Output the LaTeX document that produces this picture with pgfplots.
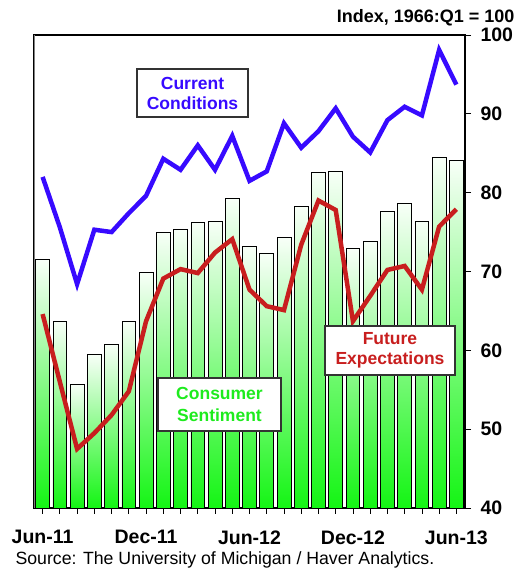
\documentclass[border=0pt]{standalone}
\usepackage{fontspec}
\setmainfont{Liberation Sans}
\usepackage{pgfplots}
\usepackage{pgfplotstable}
\pgfplotsset{compat=1.18}
\definecolor{ccblue}{RGB}{55,10,255}
\definecolor{ferred}{RGB}{200,30,30}
\definecolor{csgreen}{RGB}{30,235,30}
\definecolor{barTop}{RGB}{248,255,248}
\definecolor{barBot}{RGB}{20,245,20}

\pgfplotstableread{
x cs cc fe
0 71.5 82.0 64.6
1 63.7 75.6 56.0
2 55.7 68.4 47.5
3 59.5 75.3 49.5
4 60.8 75.0 51.8
5 63.7 77.4 54.8
6 69.9 79.6 63.7
7 75.0 84.3 69.1
8 75.3 82.9 70.3
9 76.2 86.0 69.8
10 76.4 82.9 72.4
11 79.3 87.2 74.1
12 73.2 81.5 67.7
13 72.3 82.7 65.6
14 74.3 88.8 65.1
15 78.3 85.7 73.4
16 82.6 87.8 79.0
17 82.7 90.7 77.8
18 72.9 87.1 63.7
19 73.8 85.1 66.9
20 77.6 89.2 70.2
21 78.6 90.9 70.7
22 76.4 89.8 67.7
23 84.5 98.1 75.7
24 84.1 93.7 77.9
}\datatable

\begin{document}
\begin{tikzpicture}
\begin{axis}[
  at={(34pt,61pt)}, anchor=south west,
  scale only axis, width=431pt, height=473pt,
  % index values are plotted relative to the axis floor of 40
  y filter/.expression={y-40},
  xmin=-0.5, xmax=24.5, ymin=0, ymax=60,
  ytick={0,10,...,60}, yticklabels={40,50,60,70,80,90,100},
  ytick pos=right, yticklabel pos=right,
  xtick={0,6,12,18,24},
  xticklabels={Jun-11,Dec-11,Jun-12,Dec-12,Jun-13},
  minor xtick={1,...,23},
  xtick pos=lower,
  tick align=outside, major tick length=6pt, minor tick length=6pt,
  tick style={black, line width=0.8pt},
  ticklabel style={font=\fontsize{19.5}{21}\selectfont\bfseries},
  /pgf/number format/assume math mode=true,
  yticklabel style={anchor=west, xshift=6pt},
  xticklabel style={yshift=-13pt},
  axis line style={line width=1.5pt},
]
% one plot per bar so that each bar gets its own white-to-green shading
\pgfplotsinvokeforeach{0,...,24}{
  \addplot[ybar, bar width=0.8, bar shift=0pt, draw=black, line width=0.7pt,
    top color=barTop, bottom color=barBot, forget plot,
    x filter/.expression={abs(x-#1)<0.1 ? x : nan}]
    table[x=x, y=cs] {\datatable};
}
\addplot[ccblue, line width=4.5pt, no marks] table[x=x, y=cc] {\datatable};
\addplot[ferred, line width=4.5pt, no marks] table[x=x, y=fe] {\datatable};
\draw[gray, line width=1.5pt] (rel axis cs:0,0) -- (rel axis cs:0,1);
\end{axis}
\node[anchor=base east, font=\fontsize{18}{20}\selectfont\bfseries] at (518pt,546pt) {Index, 1966:Q1 = 100};
\node[anchor=base west, font=\fontsize{17.7}{20}\selectfont] at (12pt,4.5pt) {Source: The University of Michigan / Haver Analytics.};
\node[draw=black!80, line width=1.2pt, fill=white, text=ccblue, align=center,
  minimum width=111pt, minimum height=48pt, inner sep=2pt,
  font=\fontsize{17.5}{20}\selectfont\bfseries] at (192.5pt,476pt) {Current\\Conditions};
\node[draw=black!80, line width=1.2pt, fill=white, text=csgreen, align=center,
  minimum width=123pt, minimum height=53pt, inner sep=2pt,
  font=\fontsize{17.5}{22}\selectfont\bfseries] at (219.5pt,164.5pt) {Consumer\\Sentiment};
\node[draw=black!80, line width=1.2pt, fill=white, text=ferred, align=center,
  minimum width=130pt, minimum height=49pt, inner sep=2pt,
  font=\fontsize{17.5}{20}\selectfont\bfseries] at (390pt,218.5pt) {Future\\Expectations};
\pgfresetboundingbox
\path[use as bounding box] (0,0) rectangle (523pt,569pt);
\end{tikzpicture}
\end{document}
